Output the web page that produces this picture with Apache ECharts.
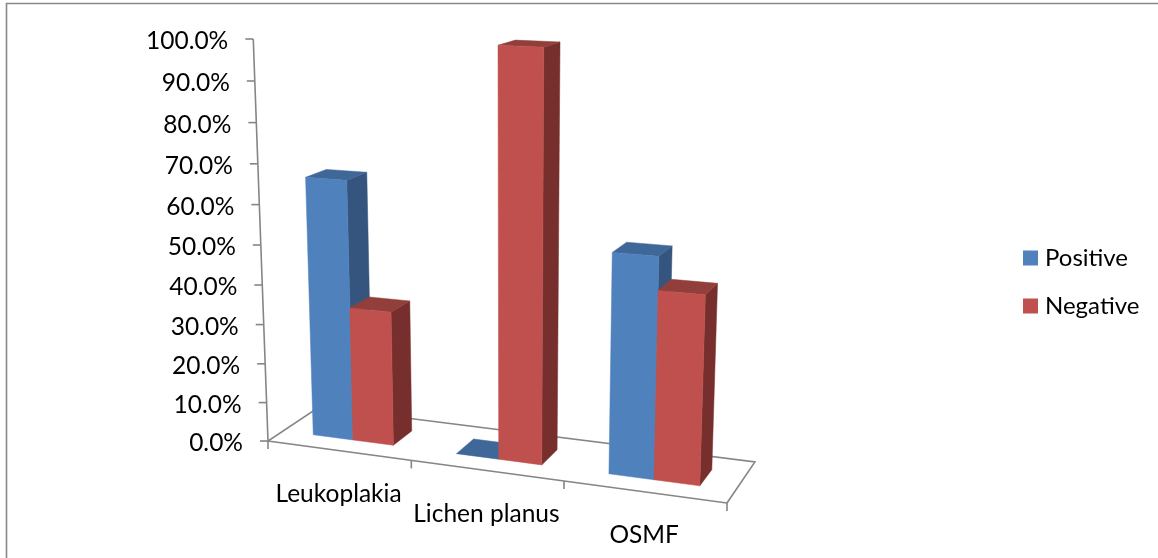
<!DOCTYPE html>
<html><head><meta charset="utf-8">
<style>html,body{margin:0;padding:0;background:#fff}#c{width:1158px;height:558px}</style>
<script src="https://cdn.jsdelivr.net/npm/echarts@6/dist/echarts.min.js"></script>
</head><body><div id="c"></div>
<script>
const categories = ['Leukoplakia', 'Lichen planus', 'OSMF'];
const positive = [65.8, 0, 53.5];
const negative = [34, 100, 45.5];
const valueTicks = [0, 10, 20, 30, 40, 50, 60, 70, 80, 90, 100];

// perspective view settings
const P = {x0:268,y0:441,a:392.1,b:69.7,ay:15.7,by:-10.1,g:-0.092,h:0.0587,vanishX:510,vanishK:6600,c1:3.82,c2:0.002,
  barHalf:0.0945,d0:0.29,d1:0.69};
const FONT = '24.5px Lato, Carlito, sans-serif';
const LINE = '#868686';

function floorPt(u,d){const w=1+P.g*u+P.h*d;return {x:(P.x0+P.a*u+P.b*d)/w,y:(P.y0+P.ay*u+P.by*d)/w,s:1/w};}
function pt3(u,d,v){const f=floorPt(u,d);const r=(P.c1*v+P.c2*v*v)*f.s;return [f.x+(f.x-P.vanishX)/P.vanishK*r,f.y-r];}
function uv(params,api,cat,val){const cs=params.coordSys;const c=api.coord([cat,val]);
  return {u:(c[0]-cs.x)/cs.width,v:100*(cs.y+cs.height-c[1])/cs.height};}
const poly=(pts,fill)=>({type:'polygon',shape:{points:pts},style:{fill:fill,stroke:fill,lineWidth:0.5},silent:true});
const line=(pts)=>({type:'polyline',shape:{points:pts},style:{stroke:LINE,lineWidth:1.6,fill:null},silent:true});

function barRender(side,colors){return function(params,api){
  const r=uv(params,api,api.value(0),api.value(1));
  const ua=side<0?r.u-P.barHalf:r.u, ub=side<0?r.u:r.u+P.barHalf;
  const d0=P.d0,d1=P.d1,v=r.v;
  const kids=[];
  if(v>0){kids.push(poly([pt3(ub,d0,0),pt3(ub,d1,0),pt3(ub,d1,v),pt3(ub,d0,v)],colors.side));}
  kids.push(poly([pt3(ua,d0,v),pt3(ub,d0,v),pt3(ub,d1,v),pt3(ua,d1,v)],colors.top));
  if(v>0){kids.push(poly([pt3(ua,d0,0),pt3(ub,d0,0),pt3(ub,d0,v),pt3(ua,d0,v)],colors.front));}
  return {type:'group',children:kids};
};}

function axisRender(params,api){
  const v=uv(params,api,0,api.value(0)).v;
  const p=pt3(0,0,v);
  const kids=[line([[p[0]-8,p[1]],p]),
    {type:'text',silent:true,style:{text:valueTicks[params.dataIndex].toFixed(1)+'%',x:p[0]-25,y:p[1]+2,align:'right',verticalAlign:'middle',font:FONT,fill:'#000'}}];
  if(params.dataIndex===0){
    const c=[[0,0],[1,0],[1,1],[0,1]].map(q=>pt3(q[0],q[1],0));
    kids.unshift(line([c[1],c[2],c[3],c[0],c[1]]));
    kids.unshift(line(valueTicks.map(t=>pt3(0,0,t))));
    [0,1,2,3].forEach(i=>{const t=pt3(i/3,0,0);kids.push(line([t,[t[0],t[1]+8]]));});
  }
  return {type:'group',children:kids};
}
function catRender(params,api){
  const r=uv(params,api,api.value(0),0);const p=pt3(r.u,0,0);
  return {type:'text',silent:true,style:{text:categories[params.dataIndex],x:p[0],y:p[1]+43.5,align:'center',verticalAlign:'middle',font:FONT,fill:'#000'}};
}
const blue={front:'#4F81BD',top:'#3F6797',side:'#35557F'};
const red={front:'#C0504D',top:'#923E3B',side:'#772F2D'};
const chart=echarts.init(document.getElementById('c'),null,{renderer:'canvas'});
chart.setOption({
  animation:false,backgroundColor:'#fff',
  grid:{left:100,right:100,top:39,bottom:117},
  xAxis:{type:'category',data:categories,show:false},
  yAxis:{type:'value',min:0,max:100,interval:10,show:false},
  legend:{data:['Positive','Negative'],orient:'vertical',left:1023,top:246,padding:0,itemWidth:15,itemHeight:15,itemGap:24,icon:'rect',
    textStyle:{fontFamily:'Lato, Carlito, sans-serif',fontSize:24,color:'#000',padding:[0,0,0,2]},selectedMode:false},
  graphic:[{type:'polyline',shape:{points:[[6.5,558],[6.5,3.5],[1158,3.5]]},style:{stroke:'#888',lineWidth:1.6,fill:null},silent:true}],
  series:[
    {name:'Axis',type:'custom',clip:false,silent:true,renderItem:axisRender,data:valueTicks.map(t=>[t]),encode:{y:0},z:1},
    {name:'Categories',type:'custom',clip:false,silent:true,renderItem:catRender,data:categories.map((c,i)=>[i]),encode:{x:0},z:1},
    {name:'Positive',type:'custom',clip:false,silent:true,itemStyle:{color:blue.front},renderItem:barRender(-1,blue),data:positive.map((v,i)=>[i,v]),encode:{x:0,y:1},z:2},
    {name:'Negative',type:'custom',clip:false,silent:true,itemStyle:{color:red.front},renderItem:barRender(1,red),data:negative.map((v,i)=>[i,v]),encode:{x:0,y:1},z:3}
  ]
});
</script></body></html>
